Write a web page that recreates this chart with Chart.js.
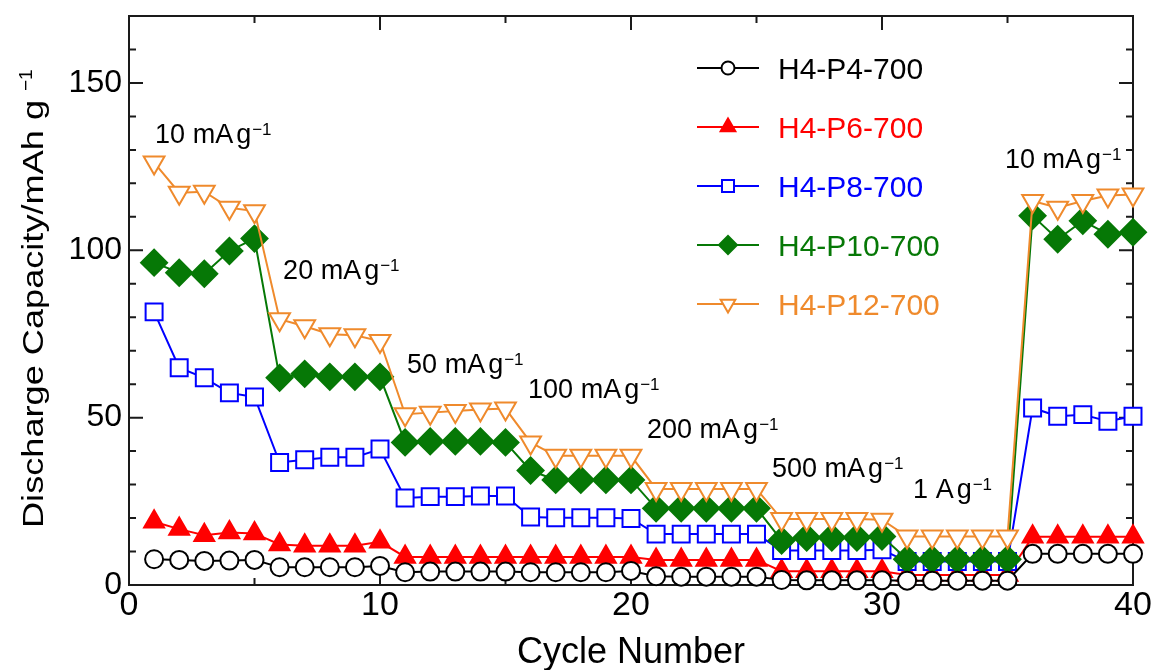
<!DOCTYPE html>
<html>
<head>
<meta charset="utf-8">
<script src="https://cdn.jsdelivr.net/npm/chart.js@4.4.1/dist/chart.umd.min.js"></script>
<style>
  html, body { margin: 0; padding: 0; background: #fff; }
  #rateReport { width: 1156px; height: 670px; }
</style>
</head>
<body>
<div id="rateReport"><canvas id="rateCanvas" width="1156" height="670"></canvas></div>
<script>
// values (cycle number vs discharge capacity)
const cycles = [1, 2, 3, 4, 5, 6, 7, 8, 9, 10, 11, 12, 13, 14, 15, 16, 17, 18, 19, 20,
  21, 22, 23, 24, 25, 26, 27, 28, 29, 30, 31, 32, 33, 34, 35, 36, 37, 38, 39, 40];

const p4Values = [7.7, 7.5, 7.2, 7.3, 7.5, 5.3, 5.3, 5.3, 5.3, 5.7,
  3.8, 4.0, 4.0, 4.0, 4.0, 3.8, 3.8, 3.8, 3.8, 4.2,
  2.6, 2.5, 2.5, 2.5, 2.5, 1.5, 1.4, 1.4, 1.4, 1.4,
  1.3, 1.3, 1.3, 1.3, 1.3, 9.3, 9.3, 9.3, 9.3, 9.3];
const p6Values = [18.9, 16.7, 14.9, 15.7, 15.4, 12.1, 11.7, 11.7, 11.7, 12.9,
  8.4, 8.4, 8.4, 8.4, 8.4, 8.4, 8.4, 8.4, 8.4, 8.4,
  7.5, 7.5, 7.5, 7.5, 7.5, 4.1, 4.1, 4.1, 4.1, 4.1,
  3.0, 3.0, 3.0, 3.0, 3.0, 14.4, 14.4, 14.4, 14.4, 14.4];
const p8Values = [81.6, 64.9, 61.9, 57.4, 56.2, 36.6, 37.4, 38.2, 38.2, 40.6,
  26.0, 26.4, 26.4, 26.6, 26.6, 20.3, 20.1, 20.1, 20.1, 19.9,
  15.2, 15.2, 15.2, 15.2, 15.2, 10.3, 10.3, 10.3, 10.3, 10.5,
  7.0, 7.0, 7.0, 7.0, 7.0, 52.9, 50.4, 50.9, 48.9, 50.4];
const p10Values = [96.3, 93.3, 93.0, 99.8, 103.5, 61.9, 63.1, 62.2, 62.2, 62.2,
  42.6, 42.9, 42.9, 42.9, 42.6, 34.2, 31.4, 31.4, 31.4, 31.4,
  22.9, 22.9, 22.9, 22.9, 22.9, 13.3, 14.2, 14.2, 14.2, 14.5,
  7.7, 7.7, 7.7, 7.7, 7.7, 110.3, 103.3, 108.8, 104.8, 105.4];
const p12Values = [126.2, 117.2, 117.5, 112.7, 111.7, 79.4, 77.3, 74.9, 74.6, 72.9,
  51.0, 51.5, 52.0, 52.4, 52.7, 42.6, 38.6, 38.6, 38.6, 38.6,
  28.7, 28.7, 28.7, 28.7, 28.7, 19.7, 19.7, 19.7, 19.7, 19.5,
  14.5, 14.5, 14.5, 14.5, 14.5, 114.7, 112.7, 114.7, 116.4, 116.7];

const seriesNames = ['H4-P4-700', 'H4-P6-700', 'H4-P8-700', 'H4-P10-700', 'H4-P12-700'];
const seriesValues = [p4Values, p6Values, p8Values, p10Values, p12Values];

const xTickValues = [0, 10, 20, 30, 40];
const yTickValues = [0, 50, 100, 150];

// current density labels, anchored in data units (left end of the text, baseline)
const rateLabels = [
  { x: 1.04, y: 132.1, text: '10 mA g', sup: '\u22121' },
  { x: 6.14, y: 91.4, text: '20 mA g', sup: '\u22121' },
  { x: 11.08, y: 63.3, text: '50 mA g', sup: '\u22121' },
  { x: 15.9, y: 55.9, text: '100 mA g', sup: '\u22121' },
  { x: 20.64, y: 43.9, text: '200 mA g', sup: '\u22121' },
  { x: 25.62, y: 32.3, text: '500 mA g', sup: '\u22121' },
  { x: 31.24, y: 26.0, text: '1 A g', sup: '\u22121' },
  { x: 34.9, y: 124.6, text: '10 mA g', sup: '\u22121' },
];

const FONT = '"Liberation Sans", Arial, Helvetica, sans-serif';

const seriesStyle = [
  { color: '#000000', fill: '#ffffff', pointStyle: 'circle', rotation: 0, radius: 9, legendRadius: 6.5, order: 0 },
  { color: '#ff0000', fill: '#ff0000', pointStyle: 'triangle', rotation: 0, radius: 11.5, legendRadius: 8.5, order: 4 },
  { color: '#0000ff', fill: '#ffffff', pointStyle: 'rect', rotation: 0, radius: 12, legendRadius: 8.5, order: 3 },
  { color: '#067806', fill: '#067806', pointStyle: 'rectRot', rotation: 0, radius: 13, legendRadius: 9, order: 2 },
  { color: '#ef8a2c', fill: '#ffffff', pointStyle: 'triangle', rotation: 180, radius: 12, legendRadius: 8.5, order: 1 },
];

const datasets = seriesNames.map((name, i) => {
  const st = seriesStyle[i];
  return {
    label: name,
    data: cycles.map((c, k) => ({ x: c, y: seriesValues[i][k] })),
    borderColor: st.color,
    backgroundColor: st.fill,
    borderWidth: 2,
    pointStyle: st.pointStyle,
    pointRotation: st.rotation,
    pointRadius: st.radius,
    pointBorderWidth: 2,
    pointBorderColor: st.color,
    pointBackgroundColor: st.fill,
    tension: 0,
    clip: false,
    order: st.order,
  };
});

const drawMarker = (ctx, st, x, y, r) => {
  ctx.save();
  ctx.fillStyle = st.fill;
  ctx.strokeStyle = st.color;
  ctx.lineWidth = 2;
  Chart.helpers.drawPoint(ctx, { pointStyle: st.pointStyle, rotation: st.rotation, radius: r, borderWidth: 2 }, x, y);
  ctx.restore();
};

/**
 * frame with inward ticks on all four sides, legend, rate labels and axis titles
 */
const plotDecor = {
  id: 'plotDecor',
  beforeDatasetsDraw(chart) {
    const { ctx, chartArea: a, scales: { x, y } } = chart;
    ctx.save();
    ctx.strokeStyle = '#1a1a1a';
    ctx.lineWidth = 2;
    ctx.strokeRect(a.left, a.top, a.right - a.left, a.bottom - a.top);
    ctx.beginPath();
    for (let v = 5; v < 40; v += 5) {
      const px = x.getPixelForValue(v);
      const len = v % 10 === 0 ? 14 : 7;
      ctx.moveTo(px, a.bottom); ctx.lineTo(px, a.bottom - len);
      ctx.moveTo(px, a.top); ctx.lineTo(px, a.top + len);
    }
    for (let v = 10; v < 170; v += 10) {
      const py = y.getPixelForValue(v);
      const len = v % 50 === 0 ? 14 : 7;
      ctx.moveTo(a.left, py); ctx.lineTo(a.left + len, py);
      ctx.moveTo(a.right, py); ctx.lineTo(a.right - len, py);
    }
    ctx.stroke();
    ctx.restore();
  },
  afterDraw(chart) {
    const { ctx, chartArea: a, scales: { x, y } } = chart;
    ctx.save();

    // legend
    seriesNames.forEach((name, i) => {
      const st = seriesStyle[i];
      const ly = 68 + i * 59;
      ctx.strokeStyle = st.color;
      ctx.lineWidth = 2;
      ctx.beginPath();
      ctx.moveTo(697, ly); ctx.lineTo(759, ly);
      ctx.stroke();
      drawMarker(ctx, st, 728, ly, st.legendRadius);
      ctx.fillStyle = st.color;
      ctx.font = `30px ${FONT}`;
      ctx.textAlign = 'left';
      ctx.textBaseline = 'alphabetic';
      ctx.fillText(name, 778, ly + 11);
    });

    // current density labels
    ctx.fillStyle = '#000';
    ctx.textBaseline = 'alphabetic';
    rateLabels.forEach(({ x: vx, y: vy, text, sup }) => {
      const px = x.getPixelForValue(vx);
      const py = y.getPixelForValue(vy);
      const cut = text.lastIndexOf(' ');
      const head = text.slice(0, cut);
      const unit = text.slice(cut + 1);
      ctx.font = `27px ${FONT}`;
      ctx.fillText(head, px, py);
      const ux = px + ctx.measureText(head).width + 3;
      ctx.fillText(unit, ux, py);
      const sx = ux + ctx.measureText(unit).width + 1;
      ctx.font = `17px ${FONT}`;
      ctx.fillText(sup, sx, py - 8);
    });

    // x title
    ctx.font = `36px ${FONT}`;
    ctx.textAlign = 'center';
    ctx.fillText('Cycle Number', (a.left + a.right) / 2, 663);

    // y title, rotated
    ctx.translate(43, 528);
    ctx.rotate(-Math.PI / 2);
    ctx.textAlign = 'left';
    ctx.font = `30px ${FONT}`;
    const main = 'Discharge Capacity/mAh g';
    const w = ctx.measureText(main).width;
    const stretch = 428 / w;
    ctx.save();
    ctx.scale(stretch, 1);
    ctx.fillText(main, 0, 0);
    ctx.restore();
    ctx.font = `19px ${FONT}`;
    ctx.fillText('\u22121', 437, -11);

    ctx.restore();
  },
};

const ctx = document.getElementById('rateCanvas').getContext('2d');

window.rateChartRef = new Chart(ctx, {
  type: 'line',
  data: { datasets },
  options: {
    responsive: false,
    animation: false,
    devicePixelRatio: 1,
    layout: { padding: { top: 16, right: 23, bottom: 0, left: 0 } },
    plugins: {
      legend: { display: false },
      tooltip: { enabled: false },
    },
    scales: {
      x: {
        type: 'linear',
        min: 0,
        max: 40,
        grid: { display: false, drawTicks: false },
        border: { display: false },
        afterBuildTicks(scale) {
          scale.ticks = xTickValues.map(value => ({ value }));
        },
        afterFit(scale) {
          scale.height = 85;
          scale.paddingLeft = 0;
          scale.paddingRight = 0;
        },
        ticks: {
          color: '#000',
          padding: 0,
          maxRotation: 0,
          font: { family: FONT, size: 34 },
        },
      },
      y: {
        type: 'linear',
        min: 0,
        max: 170,
        grid: { display: false, drawTicks: false },
        border: { display: false },
        afterBuildTicks(scale) {
          scale.ticks = yTickValues.map(value => ({ value }));
        },
        afterFit(scale) {
          scale.width = 129;
          scale.paddingTop = 0;
          scale.paddingBottom = 0;
        },
        ticks: {
          color: '#000',
          padding: 7,
          font: { family: FONT, size: 32 },
        },
      },
    },
  },
  plugins: [plotDecor],
});
</script>
</body>
</html>
